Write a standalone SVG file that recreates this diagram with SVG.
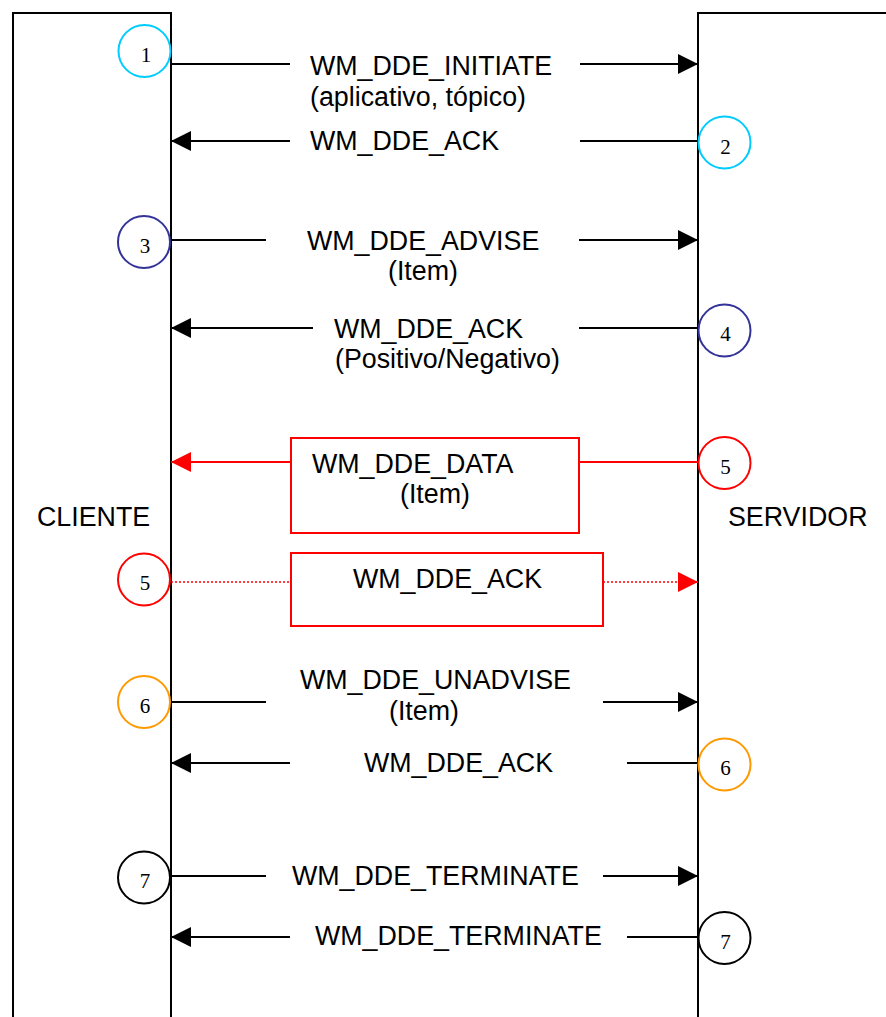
<svg xmlns="http://www.w3.org/2000/svg" width="886" height="1017" viewBox="0 0 886 1017">
<defs>
<style>
.lane{fill:none;stroke:#000;stroke-width:2}
.ln{stroke:#000;stroke-width:2;fill:none}
.rl{stroke:#FF0000;stroke-width:2;fill:none}
.rd{stroke:#FF0000;stroke-width:1.5;stroke-dasharray:2,2;fill:none}
.rbox{fill:#fff;stroke:#FF0000;stroke-width:2}
.t{font-family:"Liberation Sans",Arial,sans-serif;font-size:26.8px;fill:#000}
.n{font-family:"Liberation Serif","Times New Roman",serif;font-size:21px;fill:#000;text-anchor:middle}
.c{fill:#fff;stroke-width:2}
.cyan{stroke:#00CCFF}
.navy{stroke:#333399}
.red{stroke:#FF0000}
.orange{stroke:#FF9900}
.black{stroke:#000}
</style>
<marker id="ab" viewBox="0 0 20 20" markerWidth="20" markerHeight="20" refX="20" refY="10" orient="auto" markerUnits="userSpaceOnUse">
<path d="M0,0 L20,10 L0,20 Z" fill="#000"/>
</marker>
<marker id="ar" viewBox="0 0 20 20" markerWidth="20" markerHeight="20" refX="20" refY="10" orient="auto" markerUnits="userSpaceOnUse">
<path d="M0,0 L20,10 L0,20 Z" fill="#FF0000"/>
</marker>
</defs>

<g id="cliente">
<rect class="lane" x="13" y="13" width="158" height="1020"/>
<text class="t" x="37" y="526">CLIENTE</text>
</g>
<g id="servidor">
<rect class="lane" x="698" y="13" width="200" height="1020"/>
<text class="t" x="728" y="526">SERVIDOR</text>
</g>

<g id="connectors">
<line class="ln" x1="171" y1="64" x2="290" y2="64"/>
<line class="ln" x1="580" y1="64" x2="698" y2="64" marker-end="url(#ab)"/>
<line class="ln" x1="290" y1="141" x2="171" y2="141" marker-end="url(#ab)"/>
<line class="ln" x1="698" y1="141" x2="580" y2="141"/>
<line class="ln" x1="171" y1="240" x2="266" y2="240"/>
<line class="ln" x1="579" y1="240" x2="698" y2="240" marker-end="url(#ab)"/>
<line class="ln" x1="313" y1="328" x2="171" y2="328" marker-end="url(#ab)"/>
<line class="ln" x1="698" y1="328" x2="579" y2="328"/>
<line class="rl" x1="291" y1="462" x2="171" y2="462" marker-end="url(#ar)"/>
<line class="rl" x1="698" y1="462" x2="579" y2="462"/>
<line class="rd" x1="171" y1="582" x2="291" y2="582"/>
<line class="rd" x1="603" y1="582" x2="680" y2="582"/>
<line class="rl" x1="678" y1="582" x2="698" y2="582" marker-end="url(#ar)" stroke-width="0.5"/>
<line class="ln" x1="171" y1="702" x2="266" y2="702"/>
<line class="ln" x1="603" y1="702" x2="698" y2="702" marker-end="url(#ab)"/>
<line class="ln" x1="290" y1="763" x2="171" y2="763" marker-end="url(#ab)"/>
<line class="ln" x1="698" y1="763" x2="627" y2="763"/>
<line class="ln" x1="171" y1="876" x2="266" y2="876"/>
<line class="ln" x1="603" y1="876" x2="698" y2="876" marker-end="url(#ab)"/>
<line class="ln" x1="290" y1="937" x2="171" y2="937" marker-end="url(#ab)"/>
<line class="ln" x1="698" y1="937" x2="627" y2="937"/>
</g>

<g id="msg1">
<text class="t" x="310" y="75">WM_DDE_INITIATE</text>
<text class="t" x="310" y="106">(aplicativo, tópico)</text>
</g>
<g id="msg2"><text class="t" x="310" y="150">WM_DDE_ACK</text></g>
<g id="msg3">
<text class="t" x="307" y="250">WM_DDE_ADVISE</text>
<text class="t" x="388" y="280">(Item)</text>
</g>
<g id="msg4">
<text class="t" x="334" y="338">WM_DDE_ACK</text>
<text class="t" x="335" y="368">(Positivo/Negativo)</text>
</g>
<g id="msg5">
<rect class="rbox" x="291" y="438" width="288" height="95"/>
<text class="t" x="312" y="473">WM_DDE_DATA</text>
<text class="t" x="400" y="503">(Item)</text>
</g>
<g id="msg5ack">
<rect class="rbox" x="291" y="553" width="312" height="73"/>
<text class="t" x="353" y="588">WM_DDE_ACK</text>
</g>
<g id="msg6">
<text class="t" x="300" y="689">WM_DDE_UNADVISE</text>
<text class="t" x="389" y="720">(Item)</text>
</g>
<g id="msg6ack"><text class="t" x="364" y="772">WM_DDE_ACK</text></g>
<g id="msg7"><text class="t" x="292" y="885">WM_DDE_TERMINATE</text></g>
<g id="msg7b"><text class="t" x="315" y="945">WM_DDE_TERMINATE</text></g>

<g id="c1"><circle class="c cyan" cx="144.5" cy="51" r="26"/><text class="n" x="146" y="62">1</text></g>
<g id="c2"><circle class="c cyan" cx="724.5" cy="142.5" r="26"/><text class="n" x="725.5" y="154">2</text></g>
<g id="c3"><circle class="c navy" cx="144" cy="242" r="26"/><text class="n" x="145" y="253">3</text></g>
<g id="c4"><circle class="c navy" cx="724.5" cy="330.5" r="26"/><text class="n" x="725.5" y="341">4</text></g>
<g id="c5r"><circle class="c red" cx="724.5" cy="463" r="26"/><text class="n" x="725.5" y="474">5</text></g>
<g id="c5l"><circle class="c red" cx="144" cy="579.5" r="26"/><text class="n" x="145" y="590">5</text></g>
<g id="c6l"><circle class="c orange" cx="144" cy="702" r="26"/><text class="n" x="145" y="713">6</text></g>
<g id="c6r"><circle class="c orange" cx="724.5" cy="764.5" r="26"/><text class="n" x="725.5" y="775">6</text></g>
<g id="c7l"><circle class="c black" cx="144" cy="877.5" r="26"/><text class="n" x="145" y="888">7</text></g>
<g id="c7r"><circle class="c black" cx="724.5" cy="938" r="26"/><text class="n" x="725.5" y="949">7</text></g>
</svg>
